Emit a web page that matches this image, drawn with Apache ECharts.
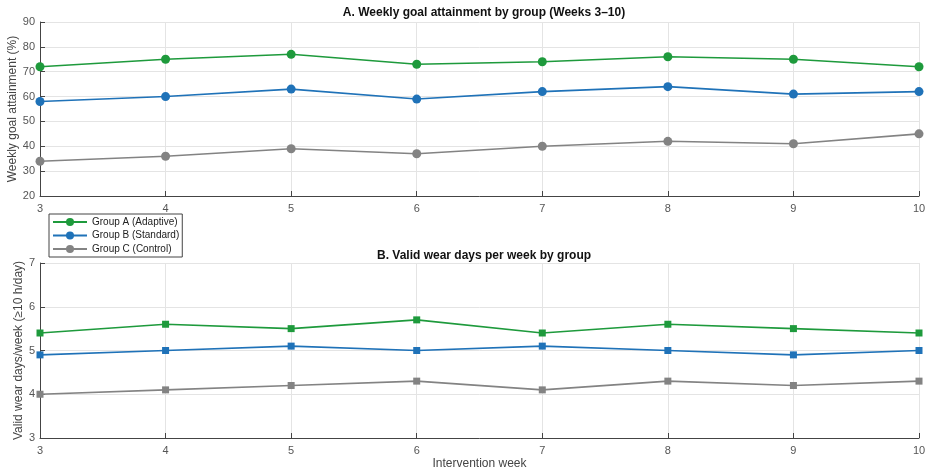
<!DOCTYPE html>
<html><head><meta charset="utf-8">
<script src="https://cdn.jsdelivr.net/npm/echarts@6/dist/echarts.min.js"></script>
<style>html,body{margin:0;padding:0;background:#fff}#c{width:934px;height:474px}</style>
</head><body><div id="c"></div>
<script>
var weeks = [3, 4, 5, 6, 7, 8, 9, 10];
var groupNames = ['Group A (Adaptive)', 'Group B (Standard)', 'Group C (Control)'];
var goalA = [72, 75, 77, 73, 74, 76, 75, 72];
var goalB = [58, 60, 63, 59, 62, 64, 61, 62];
var goalC = [34, 36, 39, 37, 40, 42, 41, 45];
var wearA = [5.4, 5.6, 5.5, 5.7, 5.4, 5.6, 5.5, 5.4];
var wearB = [4.9, 5.0, 5.1, 5.0, 5.1, 5.0, 4.9, 5.0];
var wearC = [4.0, 4.1, 4.2, 4.3, 4.1, 4.3, 4.2, 4.3];
var colors = ['#1e9a3c', '#1f72b8', '#838383'];

function pairs(v){ return weeks.map(function(w,i){ return [w, v[i]]; }); }
var FONT = '"Liberation Sans", Arial, sans-serif';
function xAxis(gi, name){
  return {
    type:'value', gridIndex:gi, min:3, max:10, interval:1,
    name: name || '', nameLocation:'middle', nameGap:20, nameMoveOverlap:false,
    nameTextStyle:{color:'#444', fontSize:12, fontFamily:FONT},
    axisLine:{show:true, lineStyle:{color:'#444', width:1}},
    axisTick:{show:true, inside:true, length:5, lineStyle:{color:'#444'}},
    axisLabel:{color:'#555', fontSize:11, fontFamily:FONT, margin:7},
    splitLine:{show:true, lineStyle:{color:'#e4e4e4', width:1}}
  };
}
function yAxis(gi, min, max, interval, name, gap){
  return {
    type:'value', gridIndex:gi, min:min, max:max, interval:interval,
    name:name, nameLocation:'middle', nameGap:gap, nameMoveOverlap:false,
    nameTextStyle:{color:'#444', fontSize:12, fontFamily:FONT},
    axisLine:{show:true, lineStyle:{color:'#444', width:1}},
    axisTick:{show:true, inside:true, length:5, lineStyle:{color:'#444'}},
    axisLabel:{color:'#555', fontSize:11, fontFamily:FONT, margin:5},
    splitLine:{show:true, lineStyle:{color:'#e4e4e4', width:1}}
  };
}
function series(name, data, gi, ci, sym, size){
  return {
    type:'line', name:name, xAxisIndex:gi, yAxisIndex:gi, data:pairs(data),
    symbol:sym, symbolSize:size, showSymbol:true,
    lineStyle:{color:colors[ci], width:1.6},
    itemStyle:{color:colors[ci]}, animation:false
  };
}
var chart = echarts.init(document.getElementById('c'), null, {renderer:'canvas'});
chart.setOption({
  backgroundColor:'#fff',
  animation:false,
  title:[
    {text:'A. Weekly goal attainment by group (Weeks 3\u201310)', left:479, top:2, textAlign:'center',
     textStyle:{fontSize:12, fontWeight:'bold', color:'#111', fontFamily:FONT}},
    {text:'B. Valid wear days per week by group', left:479, top:245, textAlign:'center',
     textStyle:{fontSize:12, fontWeight:'bold', color:'#111', fontFamily:FONT}}
  ],
  legend:{
    data:groupNames, orient:'vertical', left:49, top:214,
    itemWidth:34, itemHeight:10, itemGap:3.5,
    padding:[3,3,3,3], borderColor:'#444', borderWidth:1, backgroundColor:'#fff',
    textStyle:{fontSize:10, color:'#222', fontFamily:FONT}
  },
  grid:[
    {left:40, right:15, top:22, height:174, outerBoundsMode:'none', containLabel:false},
    {left:40, right:15, top:263, height:175, outerBoundsMode:'none', containLabel:false}
  ],
  xAxis:[xAxis(0), xAxis(1, 'Intervention week')],
  yAxis:[
    yAxis(0, 20, 90, 10, 'Weekly goal attainment (%)', 21),
    yAxis(1, 3, 7, 1, 'Valid wear days/week (\u226510 h/day)', 15)
  ],
  series:[
    series(groupNames[0], goalA, 0, 0, 'circle', 9),
    series(groupNames[1], goalB, 0, 1, 'circle', 9),
    series(groupNames[2], goalC, 0, 2, 'circle', 9),
    series(groupNames[0], wearA, 1, 0, 'rect', 7),
    series(groupNames[1], wearB, 1, 1, 'rect', 7),
    series(groupNames[2], wearC, 1, 2, 'rect', 7)
  ]
});
</script></body></html>
